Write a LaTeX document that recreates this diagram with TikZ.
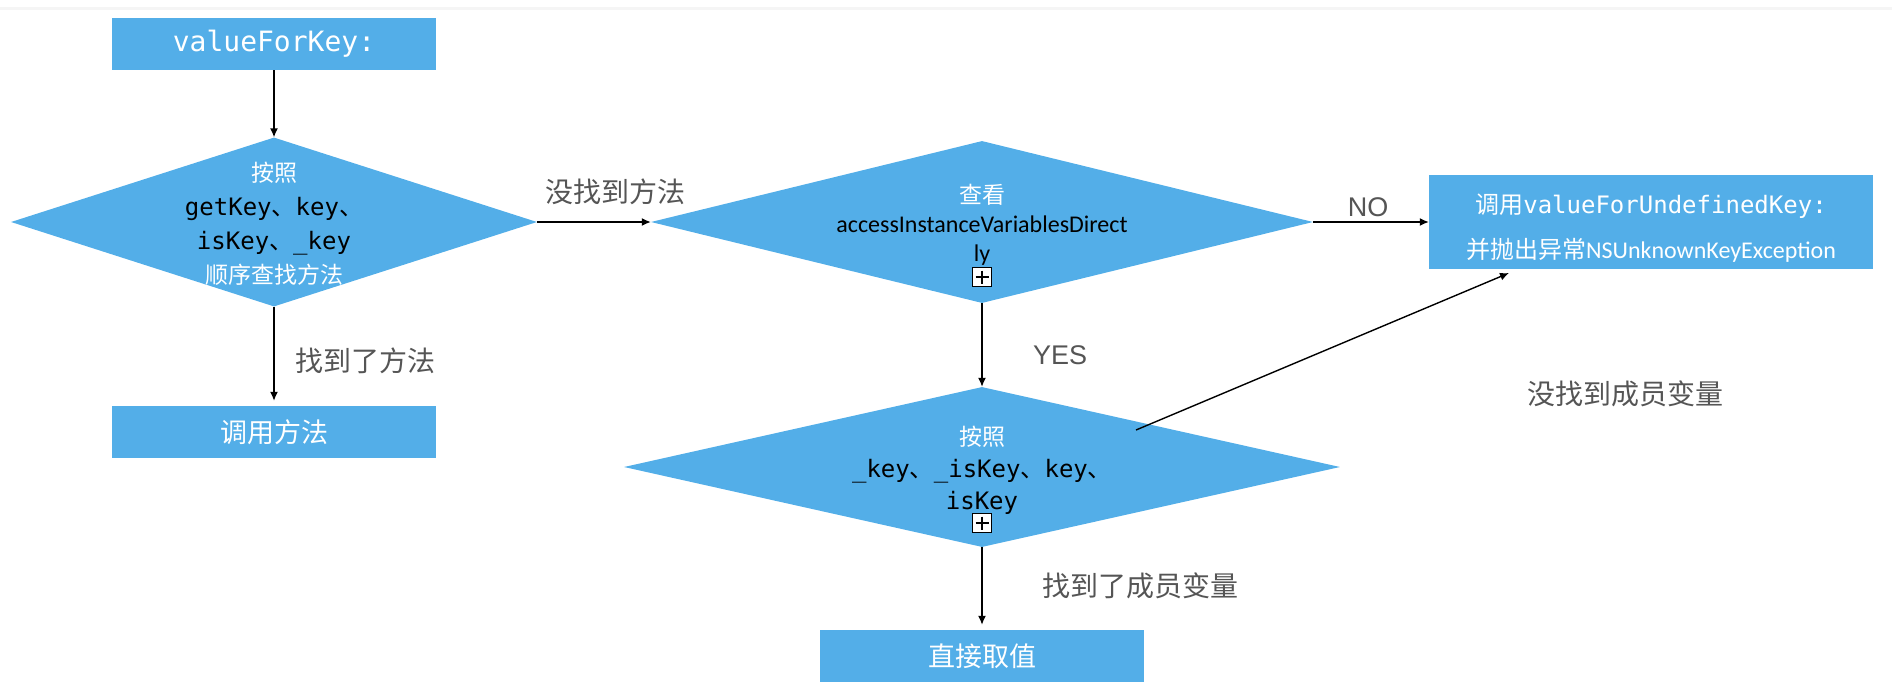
\documentclass[tikz,border=0pt]{standalone}
\usepackage{fontspec}
\newfontfamily\cjkfont{Noto Sans CJK SC}
\newfontfamily\codefont{DejaVu Sans Mono}
\newfontfamily\calfont{Carlito}
\newfontfamily\arialfont{Liberation Sans}
\usetikzlibrary{shapes.geometric,arrows.meta}
\definecolor{boxblue}{RGB}{83,174,232}
\definecolor{lblgray}{RGB}{85,85,85}
\newcommand\dun{{\cjkfont 、}}
\tikzset{
  proc/.style={rectangle, fill=boxblue, minimum width=324pt, minimum height=52pt, inner sep=0pt, text=white},
  decision/.style={diamond, fill=boxblue, inner sep=0pt},
  dectext/.style={align=center, inner sep=0pt},
  conn/.style={-{Latex[length=9pt,width=8pt]}, line width=1.4pt},
  lbl/.style={text=lblgray, font=\cjkfont\fontsize{28}{32}\selectfont, inner sep=0pt},
  expander/.style={draw, fill=white, line width=1.4pt, minimum size=19pt, inner sep=0pt,
    path picture={\draw[line width=1.4pt] ([yshift=-3pt]path picture bounding box.north) -- ([yshift=3pt]path picture bounding box.south)
      ([xshift=3pt]path picture bounding box.west) -- ([xshift=-3pt]path picture bounding box.east);}}
}
\begin{document}
\begin{tikzpicture}[x=1pt, y=-1pt]
\useasboundingbox (0,0) rectangle (1892,698);
\fill[gray!8] (0,7) rectangle (1892,10);

% left column
\node[proc, font=\codefont\fontsize{28}{32}\selectfont] (start) at (274,44) {valueForKey:};
\node[decision, minimum width=526pt, minimum height=169pt] (find) at (274,222) {};
\node[dectext, font=\codefont\fontsize{24}{34}\selectfont] (findtxt) at (274,224)
  {{\cjkfont\color{white}\fontsize{23}{34}\selectfont 按照}\\ getKey\dun key\dun\\ isKey\dun\_key\\ {\cjkfont\color{white}\fontsize{23}{34}\selectfont 顺序查找方法}};
\node[proc, font=\cjkfont\fontsize{27}{32}\selectfont] (callm) at (274,432) {调用方法};

% middle column
\node[decision, minimum width=662pt, minimum height=162pt] (check) at (982,222) {};
\node[dectext, font=\calfont\fontsize{24}{29}\selectfont] (checktxt) at (982,225)
  {{\cjkfont\color{white}\fontsize{23}{29}\selectfont 查看}\\ accessInstanceVariablesDirect\\ ly};
\node[expander] (checkplus) at (982,277) {};
\node[decision, minimum width=716pt, minimum height=160pt] (scan) at (982,467) {};
\node[dectext, font=\codefont\fontsize{24}{32}\selectfont] (scantxt) at (982,470)
  {{\cjkfont\color{white}\fontsize{23}{32}\selectfont 按照}\\ \_key\dun\_isKey\dun key\dun\\ isKey};
\node[expander] (scanplus) at (982,523) {};
\node[proc, font=\cjkfont\fontsize{27}{32}\selectfont] (direct) at (982,656) {直接取值};

% right box
\node[proc, minimum width=444pt, minimum height=94pt] (err) at (1651,222) {};
\node[dectext, text=white, font=\fontsize{24}{45}\selectfont] (errtxt) at (1651,228)
  {{\cjkfont 调用}{\codefont valueForUndefinedKey:}\\ {\cjkfont 并抛出异常}{\calfont NSUnknownKeyException}};

% connectors
\draw[conn] (start) -- (find);
\draw[conn, shorten >=5pt] (find) -- (callm);
\draw[conn] (find) -- (check);
\draw[conn] (check) -- (err);
\draw[conn] (check) -- (scan);
\draw[conn, shorten >=5pt] (scan) -- (direct);
\coordinate (scanout) at (1136,430);
\coordinate (errin) at (1509,273);
\draw[conn] (scanout) -- (errin);

% labels
\node[lbl] (nomethod) at (615,192) {没找到方法};
\node[lbl] (gotmethod) at (365,361) {找到了方法};
\node[lbl, font=\arialfont\fontsize{27}{30}\selectfont] (nolbl) at (1368,207) {NO};
\node[lbl, font=\arialfont\fontsize{27}{30}\selectfont] (yeslbl) at (1060,355) {YES};
\node[lbl] (gotvar) at (1140,586) {找到了成员变量};
\node[lbl] (novar) at (1625,394) {没找到成员变量};
\end{tikzpicture}
\end{document}
